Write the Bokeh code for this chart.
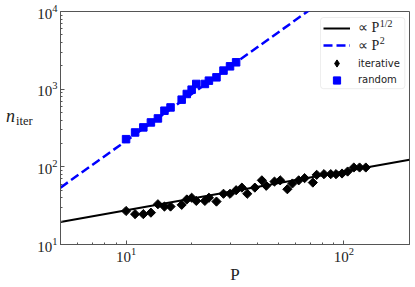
import math
from bokeh.plotting import figure
from bokeh.layouts import row
from bokeh.models import (Legend, LegendItem, BoxAnnotation, Label, FixedTicker,
                          LogTickFormatter, Div)
from bokeh.embed import file_html
from bokeh.resources import INLINE

# ---- data ----
P_iter = [10, 11, 12, 13, 14, 15, 16, 18, 19, 20, 21, 23, 24, 26, 28, 30, 32, 34, 36, 39,
          42, 44, 48, 51, 55, 58, 62, 66, 72, 75, 81, 87, 92, 98, 104, 111, 118, 126]
n_iter = [27, 24.6, 24.6, 25.7, 33, 30.8, 30.8, 32.4, 38, 40, 36.4, 36.4, 40, 35.7, 45, 45,
          50, 54, 45, 54, 67, 57, 64.6, 67, 51.5, 61, 67, 71.5, 62.7, 78.9, 80.5, 80.5, 80.5,
          82, 87, 98, 98, 98]
P_rand = [10, 11, 12, 13, 14, 15, 16, 18, 19, 20, 21, 23, 24, 26, 28, 30, 32]
n_rand = [227, 277, 322, 373, 420, 528, 582, 733, 867, 986, 1167, 1167, 1288, 1420, 1733,
          1968, 2218]
fit_P = [5, 200]
fit_sqrt = [19.5, 123]      # ∝ P^(1/2)
fit_sq = [54, 86400]        # ∝ P^2

x_major = [10, 100]
x_minor = [5, 6, 7, 8, 9, 20, 30, 40, 50, 60, 70, 80, 90, 200]
y_major = [10, 100, 1000, 10000]
y_minor = [m * d for d in (10, 100, 1000) for m in range(2, 10)]

SERIF = "Liberation Serif"
SANS = "DejaVu Sans"
TXT = "#222222"
SPINE = "#555555"

DIV_W = 33
p = figure(width=415 - DIV_W, height=287, x_axis_type="log", y_axis_type="log",
           x_range=(5, 200), y_range=(10, 1e4),
           output_backend="svg", toolbar_location=None,
           min_border_left=60 - DIV_W, min_border_right=6, min_border_top=11,
           min_border_bottom=43)
p.grid.visible = False
p.outline_line_color = SPINE
p.outline_line_width = 1

p.xaxis[0].ticker = FixedTicker(ticks=x_major, minor_ticks=x_minor)
p.yaxis[0].ticker = FixedTicker(ticks=y_major, minor_ticks=y_minor)
for ax in (p.xaxis[0], p.yaxis[0]):
    ax.formatter = LogTickFormatter()
    ax.major_tick_in = 4
    ax.major_tick_out = 0
    ax.minor_tick_in = 2
    ax.minor_tick_out = 0
    ax.axis_line_color = SPINE
    ax.major_tick_line_color = SPINE
    ax.minor_tick_line_color = SPINE
    ax.major_label_text_font = SERIF
    ax.major_label_text_font_size = "15px"
    ax.major_label_text_color = TXT
    ax.major_label_standoff = 3

p.xaxis.axis_label = "P"
p.xaxis.axis_label_text_font = SERIF
p.xaxis.axis_label_text_font_style = "normal"
p.xaxis.axis_label_text_font_size = "17px"
p.xaxis.axis_label_text_color = TXT
p.xaxis.axis_label_standoff = 0

r_sqrt = p.line(fit_P, fit_sqrt, line_color="black", line_width=2)
r_sq = p.line(fit_P, fit_sq, line_color="#0000ff", line_width=2.5, line_dash="9 4")

p.scatter(P_iter, n_iter, marker="square", angle=math.pi / 4, size=6.5,
          fill_color="black", line_color="black")
r_rd = p.scatter(P_rand, n_rand, marker="square", size=7.5,
                 fill_color="#0000ff", line_color="#0000ff")
# legend-only glyphs (same data, hidden in the plot)
r_it_leg = p.scatter(P_iter, n_iter, marker="diamond", size=10,
                     fill_color="black", line_color="black", visible=False)
r_rd_leg = p.scatter(P_rand, n_rand, marker="square", size=6,
                     fill_color="#0000ff", line_color="#0000ff", visible=False)

# legend frame (data units)
box = BoxAnnotation(left=78.1, right=190.4, bottom=1014, top=8368,
                    fill_color="white", fill_alpha=0.9,
                    line_color="#c4c4c4", line_width=1, border_radius=3)
p.add_layout(box)

ROW_H = 18
rows = [
    ("\u221d P", [r_sqrt], SERIF, "14px", 216.5),
    ("\u221d P", [r_sq], SERIF, "14px", 198.8),
    ("iterative", [r_it_leg], SANS, "10px", 180.8),
    ("random", [r_rd_leg], SANS, "10px", 164.2),
]
for lab, rends, font, fsize, yc in rows:
    lg = Legend(items=[LegendItem(label=lab, renderers=rends)],
                location=(263, yc - ROW_H / 2), padding=0, margin=0,
                border_line_alpha=0, background_fill_alpha=0,
                inactive_fill_alpha=0,
                glyph_width=27, glyph_height=ROW_H, label_height=ROW_H,
                label_standoff=8, label_text_font=font,
                label_text_font_size=fsize, label_text_color=TXT)
    p.add_layout(lg)

# superscripts in the legend (data units)
p.add_layout(Label(x=146, y=8300, text="1/2", text_font=SERIF, text_font_size="10px",
                   text_baseline="top", text_color=TXT))
p.add_layout(Label(x=146, y=4680, text="2", text_font=SERIF, text_font_size="10px",
                   text_baseline="top", text_color=TXT))

# y label n_iter as HTML text to the left of the plot
ylab = Div(text=('<div style="position:relative; left:6px; top:108px; white-space:nowrap; '
                 'font-family:\'Liberation Serif\'; color:#222222; font-size:18px; '
                 'line-height:17px;"><i>n</i><span style="font-size:12.5px; '
                 'vertical-align:-3px; margin-left:1px;">iter</span></div>'),
           width=DIV_W, height=287, margin=0, styles={"overflow": "visible"})

open("out.html", "w").write(file_html(row(ylab, p), INLINE))
